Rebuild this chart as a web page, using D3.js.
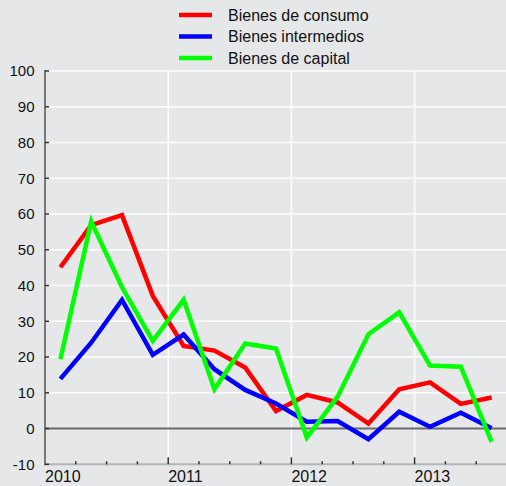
<!DOCTYPE html>
<html>
<head>
<meta charset="utf-8">
<script src="https://cdn.jsdelivr.net/npm/d3@7"></script>
<style>
  body { margin: 0; background: #e6e7e9; }
  svg { display: block; font-family: "Liberation Sans", Arial, sans-serif; }
</style>
</head>
<body>
<div id="chart"></div>
<script>
// quarters, placed at the middle of each quarter
var periods = ["2010T1","2010T2","2010T3","2010T4","2011T1","2011T2","2011T3","2011T4",
               "2012T1","2012T2","2012T3","2012T4","2013T1","2013T2","2013T3"];
var consumo = [45.1, 56.9, 59.7, 37.1, 23.1, 21.8, 17.1, 4.9, 9.4, 7.3, 1.4, 11.0, 12.9, 6.9, 8.7];
var intermedios = [13.9, 24.0, 36.0, 20.6, 26.3, 16.6, 10.8, 7.0, 1.9, 2.1, -3.0, 4.7, 0.5, 4.4, 0.1];
var capital = [19.4, 57.9, 39.5, 24.5, 36.0, 11.0, 23.8, 22.4, -2.5, 8.9, 26.4, 32.5, 17.6, 17.3, -3.7];
var seriesNames = ["Bienes de consumo", "Bienes intermedios", "Bienes de capital"];
var seriesColors = ["#ff0000", "#0000ff", "#00ff00"];
var yearTicks = [2010, 2011, 2012, 2013];
var yTicks = [-10, 0, 10, 20, 30, 40, 50, 60, 70, 80, 90, 100];

var width = 506, height = 486;
var svg = d3.select("#chart").append("svg")
    .attr("width", width)
    .attr("height", height);

var x = d3.scaleLinear().domain([2010, 2014]).range([45, 537.8]);
var y = d3.scaleLinear().domain([-10, 100]).range([464.3, 71]);

function periodX(p) {
    var yr = +p.slice(0, 4), q = +p.slice(5);
    return x(yr + (q - 0.5) / 4);
}

// grid
svg.append("g").selectAll("line")
    .data(yTicks.filter(function(d){ return d > 0; }))
    .enter().append("line")
    .attr("x1", x(2010)).attr("x2", width)
    .attr("y1", function(d){ return y(d); })
    .attr("y2", function(d){ return y(d); })
    .attr("stroke", "#ffffff").attr("stroke-width", 1.5);

svg.append("g").selectAll("line")
    .data(yearTicks.slice(1))
    .enter().append("line")
    .attr("x1", function(d){ return x(d); })
    .attr("x2", function(d){ return x(d); })
    .attr("y1", y(100)).attr("y2", y(-10))
    .attr("stroke", "#ffffff").attr("stroke-width", 1.5);

// zero line
svg.append("line")
    .attr("x1", x(2010)).attr("x2", width)
    .attr("y1", y(0)).attr("y2", y(0))
    .attr("stroke", "#6b6b6b").attr("stroke-width", 2);

// x axis line
svg.append("line")
    .attr("x1", x(2010)).attr("x2", width)
    .attr("y1", y(-10)).attr("y2", y(-10))
    .attr("stroke", "#b5b5b5").attr("stroke-width", 2);

// quarter ticks
var qTicks = d3.range(2010, 2014, 0.25);
svg.append("g").selectAll("line")
    .data(qTicks)
    .enter().append("line")
    .attr("x1", function(d){ return x(d); })
    .attr("x2", function(d){ return x(d); })
    .attr("y1", y(-10))
    .attr("y2", function(d){ return y(-10) - (d % 1 === 0 ? 7 : 3); })
    .attr("stroke", "#333").attr("stroke-width", 1.5);

// y axis
svg.append("line")
    .attr("x1", x(2010)).attr("x2", x(2010))
    .attr("y1", y(100) - 1).attr("y2", y(-10) + 1)
    .attr("stroke", "#777").attr("stroke-width", 2);

svg.append("g").selectAll("line")
    .data(yTicks)
    .enter().append("line")
    .attr("x1", x(2010)).attr("x2", x(2010) + 4)
    .attr("y1", function(d){ return y(d); })
    .attr("y2", function(d){ return y(d); })
    .attr("stroke", "#333").attr("stroke-width", 1.5);

svg.append("g").selectAll("text")
    .data(yTicks)
    .enter().append("text")
    .attr("x", 34.5)
    .attr("y", function(d){ return y(d); })
    .attr("dy", "0.36em")
    .attr("text-anchor", "end")
    .attr("font-size", 15)
    .attr("fill", "#111")
    .text(function(d){ return d; });

svg.append("g").selectAll("text")
    .data(yearTicks)
    .enter().append("text")
    .attr("x", function(d){ return x(d); })
    .attr("y", 482.3)
    .attr("font-size", 16)
    .attr("fill", "#111")
    .text(function(d){ return d; });

// series
var allSeries = [consumo, intermedios, capital];
var line = d3.line()
    .x(function(d, i){ return periodX(periods[i]); })
    .y(function(d){ return y(d); });

svg.append("g").selectAll("path")
    .data(allSeries)
    .enter().append("path")
    .attr("d", line)
    .attr("fill", "none")
    .attr("stroke", function(d, i){ return seriesColors[i]; })
    .attr("stroke-width", 4.5)
    .attr("stroke-linejoin", "miter");

// legend
var legend = svg.append("g").selectAll("g")
    .data(seriesNames)
    .enter().append("g")
    .attr("transform", function(d, i){ return "translate(0," + (15 + i * 21.5) + ")"; });

legend.append("line")
    .attr("x1", 179).attr("x2", 212)
    .attr("stroke", function(d, i){ return seriesColors[i]; })
    .attr("stroke-width", 4.5);

legend.append("text")
    .attr("x", 228)
    .attr("dy", "0.36em")
    .attr("font-size", 16)
    .attr("fill", "#111")
    .text(function(d){ return d; });
</script>
</body>
</html>
